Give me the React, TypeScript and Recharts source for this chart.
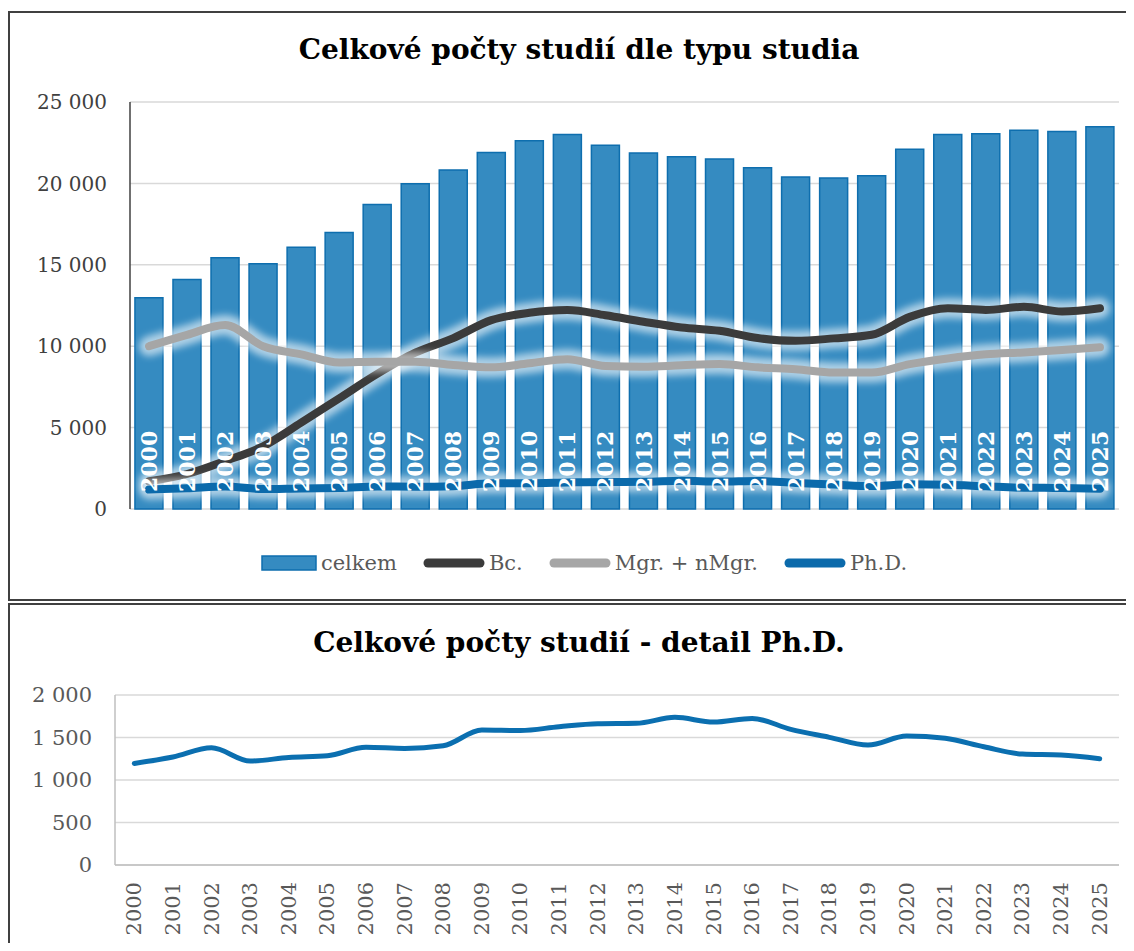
import React from 'react';
import {
  ComposedChart,
  LineChart,
  Bar,
  Line,
  XAxis,
  YAxis,
  CartesianGrid,
  Legend,
  LabelList,
} from 'recharts';

const years = ['2000','2001','2002','2003','2004','2005','2006','2007','2008','2009','2010','2011','2012','2013','2014','2015','2016','2017','2018','2019','2020','2021','2022','2023','2024','2025'];
const celkem = [12980, 14100, 15430, 15070, 16080, 16980, 18710, 19980, 20820, 21900, 22620, 23000, 22350, 21870, 21640, 21500, 20960, 20400, 20330, 20470, 22100, 23000, 23050, 23270, 23190, 23480];
const bc = [1700, 2150, 2950, 3850, 5300, 6800, 8300, 9600, 10500, 11600, 12050, 12220, 11900, 11500, 11150, 10950, 10500, 10330, 10480, 10700, 11800, 12330, 12230, 12420, 12130, 12330];
const mgr = [10000, 10700, 11300, 10000, 9500, 9000, 9050, 9050, 8850, 8700, 8950, 9200, 8780, 8740, 8830, 8900, 8700, 8580, 8380, 8380, 8900, 9250, 9500, 9620, 9770, 9930];
const phd = [1195, 1270, 1378, 1223, 1265, 1285, 1384, 1372, 1403, 1588, 1582, 1627, 1662, 1667, 1737, 1682, 1725, 1596, 1502, 1411, 1517, 1490, 1391, 1305, 1294, 1250];

const topTicks = [0, 5000, 10000, 15000, 20000, 25000];
const bottomTicks = [0, 500, 1000, 1500, 2000];
const legendOrder = ['celkem', 'Bc.', 'Mgr. + nMgr.', 'Ph.D.'];

const topTitle = 'Celkové počty studií dle typu studia';
const bottomTitle = 'Celkové počty studií - detail Ph.D.';

const topData = years.map((year, i) => ({ year, celkem: celkem[i], bc: bc[i], mgr: mgr[i], phd: phd[i] }));
const phdData = years.map((year, i) => ({ year, phd: phd[i] }));

const FONT = '"DejaVu Serif", Georgia, serif';
const fmt = (v: number) => String(v).replace(/\B(?=(\d{3})+(?!\d))/g, ' ');
const zeroKey = () => 0;

const YearLabel = (props: any) => {
  const vb = props.viewBox || {};
  const x = props.x ?? vb.x;
  const y = (props.y ?? vb.y) - 17;
  return (
    <text
      x={x}
      y={y}
      transform={`rotate(-90 ${x} ${y})`}
      textAnchor="start"
      dominantBaseline="central"
      fill="#ffffff"
      fontFamily={FONT}
      fontWeight="bold"
      fontSize={22}
    >
      {props.value}
    </text>
  );
};

const RotTick = (props: any) => {
  const { x, y, payload } = props;
  const yy = y + 9;
  return (
    <text
      x={x}
      y={yy}
      transform={`rotate(-90 ${x} ${yy})`}
      textAnchor="end"
      dominantBaseline="central"
      fill="#595959"
      fontFamily={FONT}
      fontSize={21}
    >
      {payload.value}
    </text>
  );
};

const LegendContent = (props: any) => {
  const payload = (props.payload || [])
    .filter((p: any) => p.type !== 'none' && legendOrder.includes(p.value))
    .sort((a: any, b: any) => legendOrder.indexOf(a.value) - legendOrder.indexOf(b.value));
  return (
    <div style={{ display: 'flex', justifyContent: 'center', alignItems: 'center', height: 30, fontFamily: FONT, fontSize: 21, color: '#595959' }}>
      {payload.map((p: any, i: number) => (
        <div key={i} style={{ display: 'flex', alignItems: 'center', marginLeft: i === 0 ? 0 : 26 }}>
          {p.type === 'rect' ? (
            <svg width={56} height={16}>
              <rect x={1} y={1} width={54} height={14} fill={p.color} stroke="#0e6eae" strokeWidth={1.5} />
            </svg>
          ) : (
            <svg width={62} height={16}>
              <line x1={5} y1={8} x2={57} y2={8} stroke={p.color} strokeWidth={9} strokeLinecap="round" />
            </svg>
          )}
          <span style={{ marginLeft: 4 }}>{p.value}</span>
        </div>
      ))}
    </div>
  );
};

const titleStyle = (top: number): React.CSSProperties => ({
  position: 'absolute',
  left: 0,
  width: 1158,
  top,
  textAlign: 'center',
  fontFamily: FONT,
  fontWeight: 'bold',
  fontSize: 28,
  lineHeight: '36px',
  color: '#000',
});

export default function App() {
  const darkAxis = { stroke: '#404040', strokeWidth: 1.5 };
  const lightAxis = { stroke: '#bfbfbf', strokeWidth: 1.5 };
  return (
    <div style={{ position: 'relative', margin: -8, width: 1134, height: 951, overflow: 'hidden', background: '#fff' }}>
      <div style={{ position: 'absolute', left: 8, top: 11, width: 1140, height: 590, border: '2px solid #404040', boxSizing: 'border-box' }} />
      <div style={{ position: 'absolute', left: 8, top: 603, width: 1140, height: 400, border: '2px solid #404040', boxSizing: 'border-box' }} />
      <div style={titleStyle(32)}>{topTitle}</div>
      <div style={titleStyle(625)}>{bottomTitle}</div>

      <div style={{ position: 'absolute', left: 0, top: 0 }}>
        <ComposedChart width={1134} height={600} data={topData} margin={{ top: 102, right: 15, bottom: 61, left: 0 }} barCategoryGap="13%">
          <defs>
            <filter id="glow" filterUnits="userSpaceOnUse" x="0" y="0" width="1134" height="600">
              <feGaussianBlur stdDeviation="3.5" />
            </filter>
          </defs>
          <CartesianGrid vertical={false} stroke="#d9d9d9" strokeWidth={1.5} />
          <XAxis dataKey="year" tick={false} tickLine={false} height={0} axisLine={darkAxis} />
          <XAxis xAxisId="top" orientation="top" dataKey="year" tick={false} tickLine={false} height={0} axisLine={darkAxis} />
          <YAxis
            type="number"
            domain={[0, 25000]}
            ticks={topTicks}
            interval={0}
            tickFormatter={fmt}
            width={130}
            tickLine={false}
            tickSize={6}
            tickMargin={17}
            axisLine={darkAxis}
            tick={{ fill: '#404040', fontSize: 20, fontFamily: FONT }}
          />
          <YAxis yAxisId="right" orientation="right" type="number" domain={[0, 25000]} width={0} tick={false} tickLine={false} axisLine={darkAxis} />
          <Bar dataKey="celkem" name="celkem" fill="#358bc1" stroke="#0e6eae" strokeWidth={1.5} isAnimationActive={false} />
          <Line dataKey="bc" legendType="none" type="monotone" stroke="#ffffff" strokeOpacity={0.6} strokeWidth={20} strokeLinecap="round" filter="url(#glow)" dot={false} activeDot={false} isAnimationActive={false} />
          <Line dataKey="bc" name="Bc." type="monotone" stroke="#3b3b3b" strokeWidth={8} strokeLinecap="round" dot={false} activeDot={false} isAnimationActive={false} />
          <Line dataKey="mgr" legendType="none" type="monotone" stroke="#ffffff" strokeOpacity={0.6} strokeWidth={20} strokeLinecap="round" filter="url(#glow)" dot={false} activeDot={false} isAnimationActive={false} />
          <Line dataKey="mgr" name="Mgr. + nMgr." type="monotone" stroke="#a6a6a6" strokeWidth={8} strokeLinecap="round" dot={false} activeDot={false} isAnimationActive={false} />
          <Line dataKey="phd" legendType="none" type="monotone" stroke="#ffffff" strokeOpacity={0.6} strokeWidth={20} strokeLinecap="round" filter="url(#glow)" dot={false} activeDot={false} isAnimationActive={false} />
          <Line dataKey="phd" name="Ph.D." type="monotone" stroke="#0b6aab" strokeWidth={8} strokeLinecap="round" dot={false} activeDot={false} isAnimationActive={false} />
          <Line dataKey={zeroKey} legendType="none" stroke="none" dot={false} activeDot={false} isAnimationActive={false}>
            <LabelList dataKey="year" content={YearLabel} />
          </Line>
          <Legend content={<LegendContent />} wrapperStyle={{ left: 0, width: 1168, bottom: 22 }} />
        </ComposedChart>
      </div>

      <div style={{ position: 'absolute', left: 0, top: 604 }}>
        <LineChart width={1134} height={339} data={phdData} margin={{ top: 91, right: 15, bottom: 0, left: 0 }}>
          <CartesianGrid vertical={false} stroke="#d9d9d9" strokeWidth={1.5} />
          <XAxis dataKey="year" scale="band" interval={0} height={78} tickLine={false} axisLine={lightAxis} tick={<RotTick />} />
          <XAxis xAxisId="top" orientation="top" dataKey="year" scale="band" tick={false} tickLine={false} height={0} axisLine={lightAxis} />
          <YAxis
            type="number"
            domain={[0, 2000]}
            ticks={bottomTicks}
            interval={0}
            tickFormatter={fmt}
            width={115}
            tickLine={false}
            tickSize={6}
            tickMargin={17}
            axisLine={lightAxis}
            tick={{ fill: '#595959', fontSize: 21, fontFamily: FONT }}
          />
          <YAxis yAxisId="right" orientation="right" type="number" domain={[0, 2000]} width={0} tick={false} tickLine={false} axisLine={lightAxis} />
          <Line dataKey="phd" type="monotone" stroke="#0b6fb0" strokeWidth={5} strokeLinecap="round" dot={false} activeDot={false} isAnimationActive={false} />
        </LineChart>
      </div>
    </div>
  );
}
